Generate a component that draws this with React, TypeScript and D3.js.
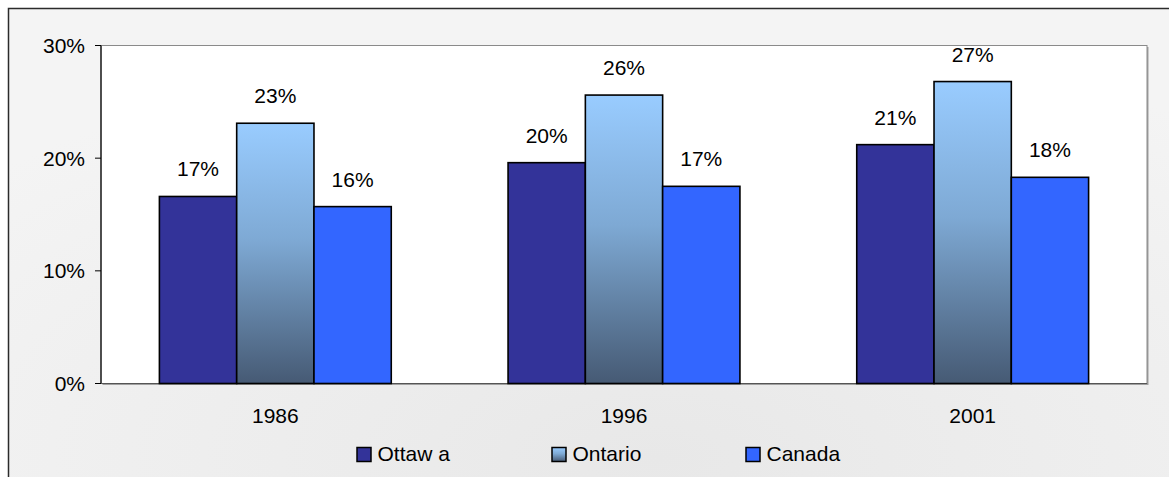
import React from "react";
import * as d3 from "d3";

const categories = ["1986", "1996", "2001"];
const seriesNames = ["Ottaw a", "Ontario", "Canada"];
const ottawa = [16.6, 19.6, 21.2];
const ontario = [23.1, 25.6, 26.8];
const canada = [15.7, 17.5, 18.3];
const labelsOttawa = ["17%", "20%", "21%"];
const labelsOntario = ["23%", "26%", "27%"];
const labelsCanada = ["16%", "17%", "18%"];
const yTicks = [0, 10, 20, 30];

export default function App() {
  const W = 1169, H = 477;
  const left = 101, right = 1147, top = 45.5, bottom = 383.5;
  const x = d3.scaleBand<string>().domain(categories).range([left, right]).paddingInner(0.335).paddingOuter(0.1675);
  const inner = d3.scaleBand<string>().domain(seriesNames).range([0, x.bandwidth()]);
  const y = d3.scaleLinear().domain([0, 30]).range([bottom, top]);
  const series = [
    { name: seriesNames[0], values: ottawa, labels: labelsOttawa, fill: "#333399" },
    { name: seriesNames[1], values: ontario, labels: labelsOntario, fill: "url(#ontGrad)" },
    { name: seriesNames[2], values: canada, labels: labelsCanada, fill: "#3366ff" },
  ];
  const font = "'Liberation Sans', Arial, sans-serif";
  const fs = 21;
  const legendX = [357, 552, 746];
  return (
    <svg width={W} height={H} style={{ position: "absolute", left: 0, top: 0, display: "block" }} fontFamily={font}>
      <defs>
        <radialGradient id="bgGrad" cx="0.5" cy="0.75" r="0.7">
          <stop offset="0" stopColor="#e8e8e8" />
          <stop offset="1" stopColor="#f4f4f4" />
        </radialGradient>
        <linearGradient id="ontGrad" x1="0" y1="0" x2="0" y2="1">
          <stop offset="0" stopColor="#99ccff" />
          <stop offset="0.45" stopColor="#7ea9d4" />
          <stop offset="1" stopColor="#465a74" />
        </linearGradient>
      </defs>
      <rect x={0} y={0} width={W} height={H} fill="#ffffff" />
      <rect x={8.5} y={8.5} width={1300} height={600} fill="url(#bgGrad)" stroke="#2b2b2b" strokeWidth={1.5} />
      {/* plot area */}
      <rect x={left + 1.5} y={top + 1.5} width={right - left} height={bottom - top} fill="#a0a0a0" />
      <rect x={left} y={top} width={right - left} height={bottom - top} fill="#ffffff" stroke="#8a8a8a" strokeWidth={1} />
      {/* axes */}
      <line x1={left} x2={left} y1={top} y2={bottom} stroke="#000" strokeWidth={1.2} />
      <line x1={left} x2={right} y1={bottom} y2={bottom} stroke="#555" strokeWidth={1.2} />
      {yTicks.map((t) => (
        <g key={t}>
          <line x1={left - 6} x2={left} y1={y(t)} y2={y(t)} stroke="#000" strokeWidth={1} />
          <text x={85} y={y(t)} dy="0.35em" textAnchor="end" fontSize={fs} fill="#000">{t}%</text>
        </g>
      ))}
      {/* bars */}
      {series.map((s) =>
        categories.map((c, i) => {
          const bx = (x(c) as number) + (inner(s.name) as number);
          const bw = inner.bandwidth();
          const by = y(s.values[i]);
          return (
            <g key={s.name + c}>
              <rect x={bx} y={by} width={bw} height={bottom - by} fill={s.fill} stroke="#000" strokeWidth={1.6} />
              <text x={bx + bw / 2} y={by - 20} textAnchor="middle" fontSize={fs} fill="#000">{s.labels[i]}</text>
            </g>
          );
        })
      )}
      {/* x labels */}
      {categories.map((c) => (
        <text key={c} x={(x(c) as number) + x.bandwidth() / 2} y={422.5} textAnchor="middle" fontSize={fs} fill="#000">{c}</text>
      ))}
      {/* legend */}
      {series.map((s, i) => (
        <g key={s.name}>
          <rect x={legendX[i]} y={447.5} width={14} height={14} fill={s.fill} stroke="#000" strokeWidth={1.5} />
          <text x={legendX[i] + 20.5} y={461} fontSize={fs} fill="#000">{s.name}</text>
        </g>
      ))}
    </svg>
  );
}
